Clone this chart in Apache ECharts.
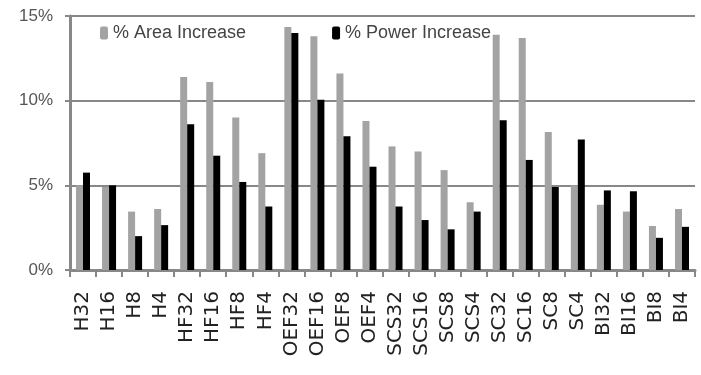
<!DOCTYPE html>
<html><head><meta charset="utf-8">
<script src="https://cdn.jsdelivr.net/npm/echarts@6/dist/echarts.min.js"></script>
<style>html,body{margin:0;padding:0;background:#fff}#c{width:701px;height:375px}</style>
</head><body><div id="c"></div>
<script>
const categories = ["H32","H16","H8","H4","HF32","HF16","HF8","HF4","OEF32","OEF16","OEF8","OEF4","SCS32","SCS16","SCS8","SCS4","SC32","SC16","SC8","SC4","BI32","BI16","BI8","BI4"];
const areaIncrease = [5.0,4.9,3.45,3.6,11.4,11.1,9.0,6.9,14.35,13.8,11.6,8.8,7.3,7.0,5.9,4.0,13.9,13.7,8.15,5.0,3.85,3.45,2.6,3.6];
const powerIncrease = [5.75,5.0,2.0,2.65,8.6,6.75,5.2,3.75,14.0,10.05,7.9,6.1,3.75,2.95,2.4,3.45,8.85,6.5,4.9,7.7,4.7,4.65,1.9,2.55];
const yTicks = [0,5,10,15];

const chart = echarts.init(document.getElementById('c'));
chart.setOption({
  animation:false,
  textStyle:{fontFamily:'Liberation Sans'},
  legend:{
    left:95, top:19, itemWidth:8, itemHeight:13, itemGap:86,
    textStyle:{fontSize:18,color:'#444',fontFamily:'Liberation Sans'},
    data:['% Area Increase','% Power Increase']
  },
  grid:{left:70,right:6,top:16,bottom:105},
  xAxis:{
    type:'category', data:categories,
    axisLine:{lineStyle:{color:'#888',width:3}},
    axisTick:{show:true,length:7,lineStyle:{color:'#888',width:2}},
    axisLabel:{rotate:90,fontSize:20,color:'#222',margin:21,interval:0,fontFamily:'DejaVu Sans'}
  },
  yAxis:{
    type:'value', min:0, max:15, interval:5,
    axisLine:{show:true,lineStyle:{color:'#888',width:3}},
    axisTick:{show:true,length:5,lineStyle:{color:'#888',width:2}},
    splitLine:{lineStyle:{color:'#888',width:2}},
    axisLabel:{fontSize:17,color:'#555',margin:17,formatter:v=>yTicks.includes(v)?v+'%':''}
  },
  series:[
    {name:'% Area Increase',type:'bar',data:areaIncrease,itemStyle:{color:'#a3a3a3'},barWidth:7,barGap:'0%'},
    {name:'% Power Increase',type:'bar',data:powerIncrease,itemStyle:{color:'#000'},barWidth:7,barGap:'0%'}
  ]
});
</script></body></html>
